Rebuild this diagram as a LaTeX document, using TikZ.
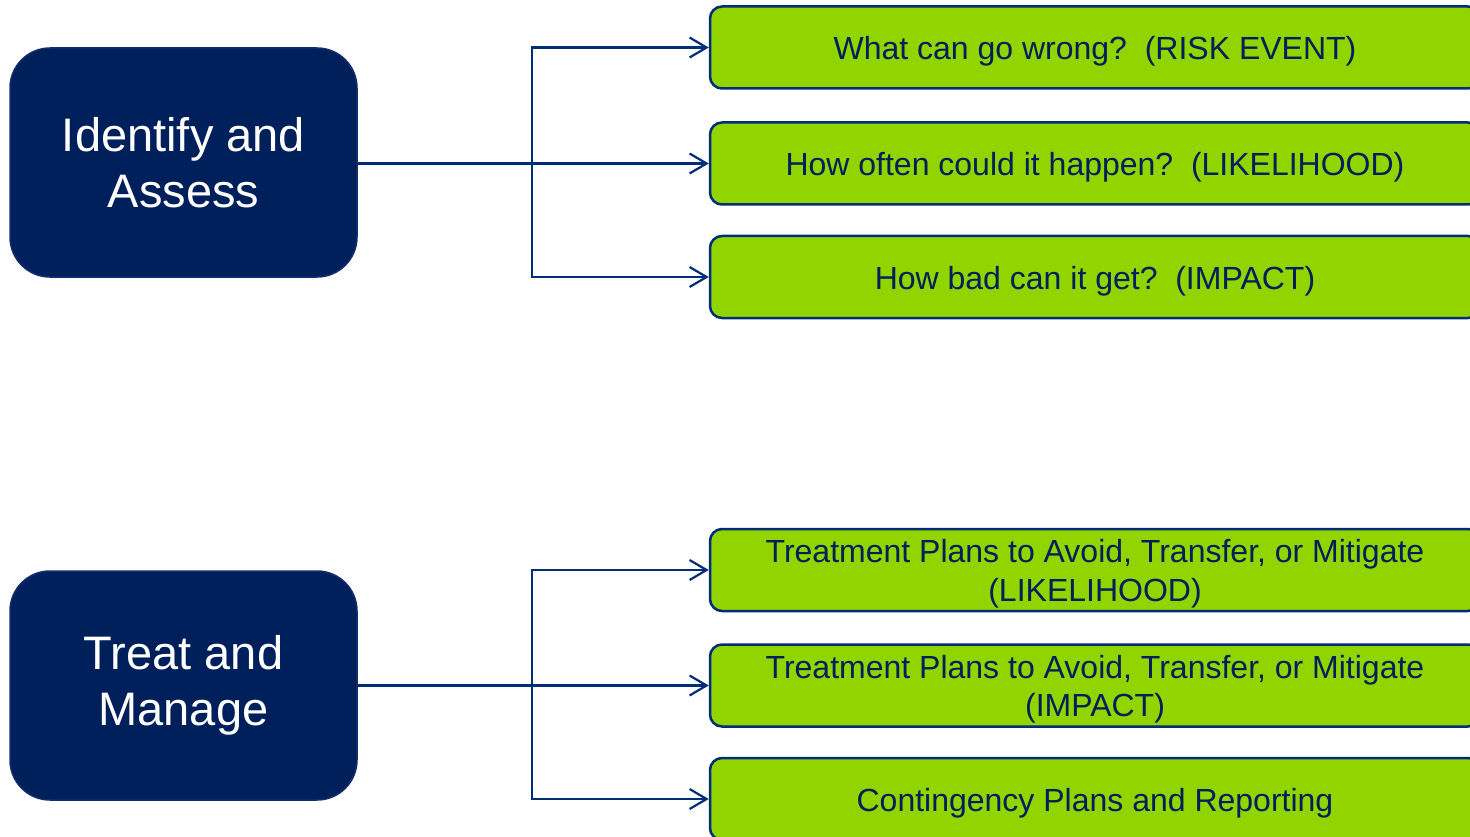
\documentclass[tikz,border=0pt]{standalone}
\usepackage{fontspec}
\setmainfont{Liberation Sans}
\usetikzlibrary{arrows.meta}
\definecolor{navy}{RGB}{0,32,91}
\definecolor{navyedge}{RGB}{20,45,110}
\definecolor{linkblue}{RGB}{0,45,120}
\definecolor{lime}{RGB}{146,212,0}
% taller first line so the text sits a little lower in its box
\newcommand{\qstrut}{\rule{0pt}{31pt}}
\begin{document}
\begin{tikzpicture}[x=1pt,y=-1pt,
  phase/.style={draw=navyedge,line width=1.5pt,fill=navy,rounded corners=40pt,
    minimum width=347pt,minimum height=229pt,text=white,align=center,
    font=\fontsize{47}{56.5}\selectfont,inner sep=0pt},
  question/.style={draw=linkblue,line width=2.5pt,fill=lime,rounded corners=12pt,
    minimum width=770pt,minimum height=82pt,text=navy,align=center,
    font=\fontsize{32}{38.5}\selectfont,inner sep=0pt},
  link/.style={draw=linkblue,line width=2.2pt},
  arrowlink/.style={link,-{Straight Barb[length=17pt,width=20pt,line width=2.2pt]}}]
\useasboundingbox (0,0) rectangle (1470,837);
\clip (0,0) rectangle (1470,837);
\fill[white] (0,0) rectangle (1470,837);

% left-hand phases
\node[phase] (ia) at (183.5,162.5) {Identify and\\Assess};
\node[phase] (tm) at (183.5,685.5) {Treat and\\Manage};

% right-hand questions and plans
\node[question] (q1) at (1095,47.5) {\qstrut What can go wrong?\ \ (RISK EVENT)};
\node[question] (q2) at (1095,163.5) {\qstrut How often could it happen?\ \ (LIKELIHOOD)};
\node[question] (q3) at (1095,277) {\qstrut How bad can it get?\ \ (IMPACT)};
\node[question] (p1) at (1095,570) {\qstrut Treatment Plans to Avoid, Transfer, or Mitigate\\(LIKELIHOOD)};
\node[question] (p2) at (1095,685.5) {\qstrut Treatment Plans to Avoid, Transfer, or Mitigate\\(IMPACT)};
\node[question] (p3) at (1095,799) {\qstrut Contingency Plans and Reporting};

% branching connectors
\coordinate (j1) at (532,163.5);
\coordinate (j2) at (532,685.5);
\draw[arrowlink] (ia.east |- j1) -- (q2.west);
\draw[arrowlink] (j1) |- (q1.west);
\draw[arrowlink] (j1) |- (q3.west);
\draw[arrowlink] (tm.east |- j2) -- (p2.west);
\draw[arrowlink] (j2) |- (p1.west);
\draw[arrowlink] (j2) |- (p3.west);
\end{tikzpicture}
\end{document}
